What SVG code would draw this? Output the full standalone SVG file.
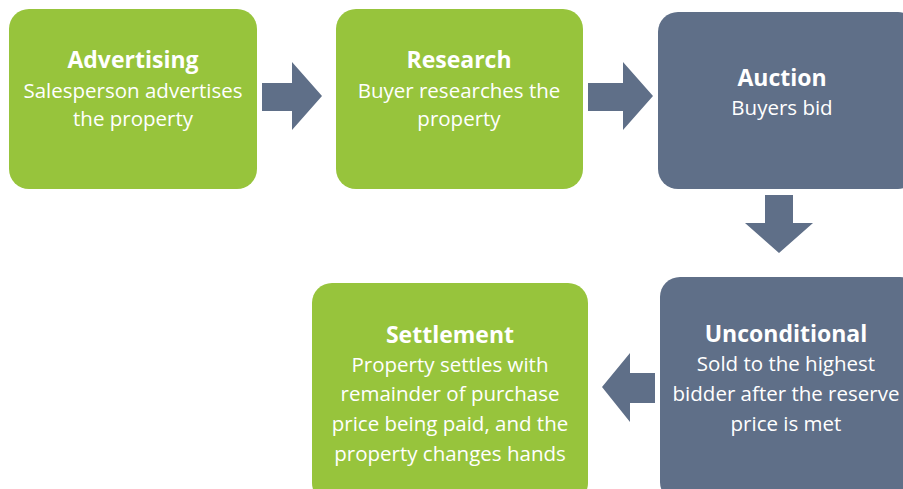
<svg xmlns="http://www.w3.org/2000/svg" width="903" height="489" viewBox="0 0 903 489">
<style>
.g{fill:#97c43c}
.b{fill:#5f6f88}
.a{fill:#5f6f88}
text{fill:#fff;font-family:"Open Sans","Liberation Sans",sans-serif;text-anchor:middle}
.t{font-size:23px;font-weight:bold}
.s{font-size:20.5px}
</style>
<rect width="903" height="489" fill="#fff"/>
<g id="connectors">
<polygon class="a" points="262,83 292,83 292,62 322,96 292,130 292,111 262,111"/>
<polygon class="a" points="588,83 623,83 623,62 653,96 623,130 623,111 588,111"/>
<polygon class="a" points="765,195 793,195 793,223 813,223 779,253 745,223 765,223"/>
<polygon class="a" points="655,373 630,373 630,353 602,387 630,422 630,403 655,403"/>
</g>
<g id="advertising">
<rect class="g" x="9" y="9" width="248" height="180" rx="20"/>
<text class="t" x="133" y="68">Advertising</text>
<text class="s" x="133" y="98">Salesperson advertises</text>
<text class="s" x="133" y="126">the property</text>
</g>
<g id="research">
<rect class="g" x="336" y="9" width="247" height="180" rx="20"/>
<text class="t" x="459" y="68">Research</text>
<text class="s" x="459" y="98">Buyer researches the</text>
<text class="s" x="459" y="126">property</text>
</g>
<g id="auction">
<rect class="b" x="658" y="12" width="260" height="177" rx="20"/>
<text class="t" x="782" y="86">Auction</text>
<text class="s" x="782" y="115">Buyers bid</text>
</g>
<g id="unconditional">
<rect class="b" x="660" y="277" width="260" height="225" rx="20"/>
<text class="t" x="786" y="342">Unconditional</text>
<text class="s" x="786" y="371">Sold to the highest</text>
<text class="s" x="786" y="401">bidder after the reserve</text>
<text class="s" x="786" y="431">price is met</text>
</g>
<g id="settlement">
<rect class="g" x="312" y="283" width="276" height="220" rx="20"/>
<text class="t" x="450" y="343">Settlement</text>
<text class="s" x="450" y="372">Property settles with</text>
<text class="s" x="450" y="401">remainder of purchase</text>
<text class="s" x="450" y="431">price being paid, and the</text>
<text class="s" x="450" y="461">property changes hands</text>
</g>
</svg>
